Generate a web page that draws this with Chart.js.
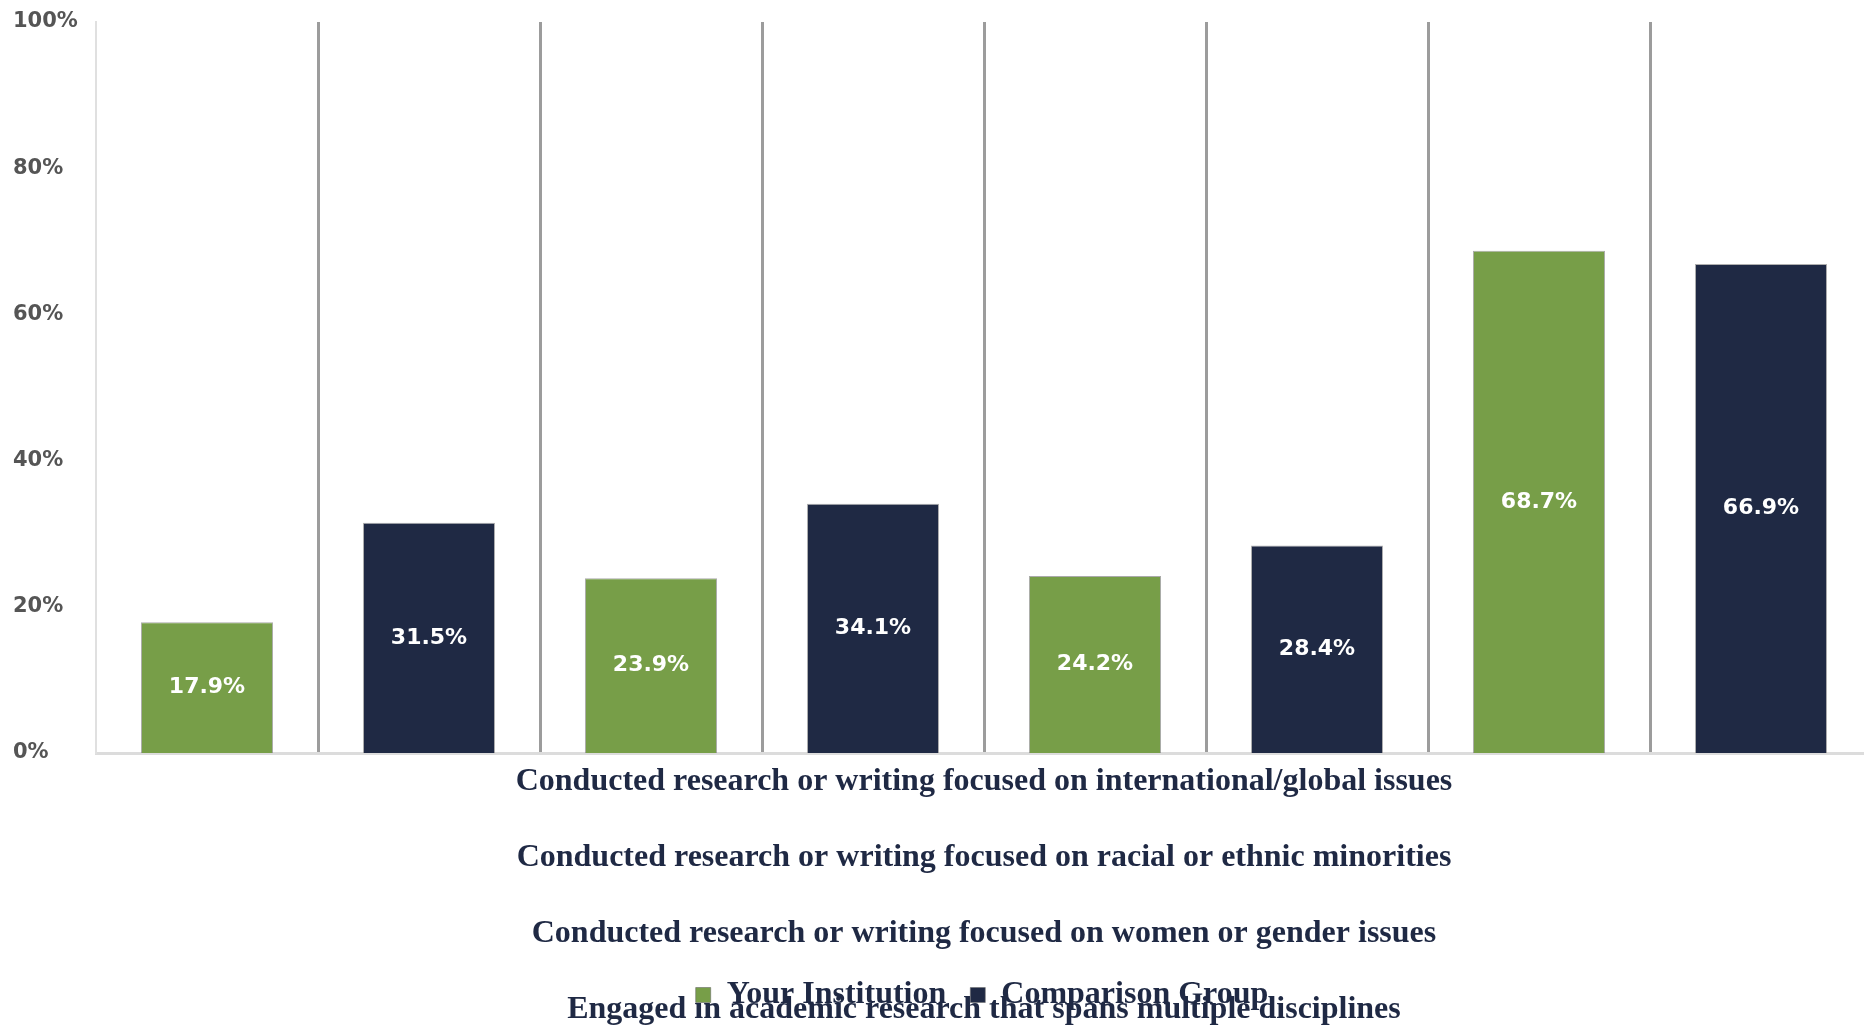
<!DOCTYPE html>
<html>
<head>
<meta charset="utf-8">
<script src="https://cdn.jsdelivr.net/npm/chart.js@4/dist/chart.umd.min.js"></script>
<style>
  html, body { margin: 0; padding: 0; background: #ffffff; overflow: hidden; }
  #wrap { width: 1872px; height: 1027px; }
</style>
</head>
<body>
<div id="wrap"><canvas id="chart" width="1872" height="1027"></canvas></div>
<script>
// Survey items, one pair of bars per item
const categories = [
  "Conducted research or writing focused on international/global issues",
  "Conducted research or writing focused on racial or ethnic minorities",
  "Conducted research or writing focused on women or gender issues",
  "Engaged in academic research that spans multiple disciplines"
];
const seriesNames = ["Your Institution", "Comparison Group"];
const yourInstitution = [17.9, 23.9, 24.2, 68.7];
const comparisonGroup = [31.5, 34.1, 28.4, 66.9];
const yTicks = [0, 20, 40, 60, 80, 100];

const GREEN = "#779e48";
const NAVY = "#1f2944";

// Each bar gets its own slot on the x axis: institution, then comparison
const slotLabels = [];
const slotInst = [];
const slotComp = [];
categories.forEach((c, i) => {
  slotLabels.push(c, c);
  slotInst.push(yourInstitution[i], null);
  slotComp.push(null, comparisonGroup[i]);
});

// Value labels centred inside each bar
const barValueLabels = {
  id: "barValueLabels",
  afterDatasetsDraw(chart) {
    const ctx = chart.ctx;
    ctx.save();
    ctx.font = "bold 22px 'DejaVu Sans'";
    ctx.fillStyle = "#ffffff";
    ctx.textAlign = "center";
    ctx.textBaseline = "middle";
    chart.data.datasets.forEach((ds, di) => {
      const meta = chart.getDatasetMeta(di);
      meta.data.forEach((bar, i) => {
        const v = ds.data[i];
        if (v === null || v === undefined) return;
        ctx.fillText(v.toFixed(1) + "%", bar.x, (bar.y + bar.base) / 2);
      });
    });
    ctx.restore();
  }
};

// Centre the legend under the plot area rather than the whole canvas
const legendUnderPlot = {
  id: "legendUnderPlot",
  afterLayout(chart) {
    const lg = chart.legend;
    if (!lg) return;
    const target = (chart.chartArea.left + chart.chartArea.right) / 2 - 2;
    const dx = target - (lg.left + lg.right) / 2;
    lg.left += dx;
    lg.right += dx;
  }
};

new Chart(document.getElementById("chart"), {
  type: "bar",
  data: {
    labels: slotLabels,
    datasets: [
      {
        label: seriesNames[0],
        data: slotInst,
        backgroundColor: GREEN,
        borderColor: "rgba(100,100,100,0.55)",
        borderWidth: 1,
        grouped: false,
        categoryPercentage: 1,
        barPercentage: 0.595
      },
      {
        label: seriesNames[1],
        data: slotComp,
        backgroundColor: NAVY,
        borderColor: "rgba(110,110,110,0.55)",
        borderWidth: 1,
        grouped: false,
        categoryPercentage: 1,
        barPercentage: 0.595
      }
    ]
  },
  options: {
    responsive: false,
    animation: false,
    layout: { padding: { left: 13, right: 0, top: 22, bottom: 6 } },
    plugins: {
      tooltip: { enabled: false },
      legend: {
        position: "bottom",
        labels: {
          boxWidth: 15,
          boxHeight: 15,
          padding: 24,
          color: NAVY,
          font: { family: "'Liberation Serif'", size: 32, weight: "bold" }
        }
      }
    },
    scales: {
      x: {
        offset: true,
        grid: {
          offset: true,
          drawTicks: false,
          lineWidth: 3,
          color: (c) => (c.index === 0 || c.index >= slotLabels.length) ? "rgba(0,0,0,0)" : "#9c9c9c"
        },
        border: { display: true, color: "#dcdcdc", width: 3 },
        ticks: { display: false },
        title: {
          display: true,
          text: categories,
          color: NAVY,
          font: { family: "'Liberation Serif'", size: 32, weight: "bold", lineHeight: 76 / 32 },
          padding: { top: -9, bottom: -93 }
        }
      },
      y: {
        min: 0,
        max: 100,
        afterBuildTicks: (scale) => { scale.ticks = yTicks.map(v => ({ value: v })); },
        afterFit: (scale) => { scale.width = 83; },
        grid: { display: false, drawTicks: false },
        border: { display: true, color: "#e0e0e0", width: 2 },
        ticks: {
          crossAlign: "far",
          padding: 0,
          color: "#555555",
          font: { family: "'DejaVu Sans'", size: 21, weight: "bold" },
          callback: (v) => v + "%"
        }
      }
    }
  },
  plugins: [barValueLabels, legendUnderPlot]
});
</script>
</body>
</html>
